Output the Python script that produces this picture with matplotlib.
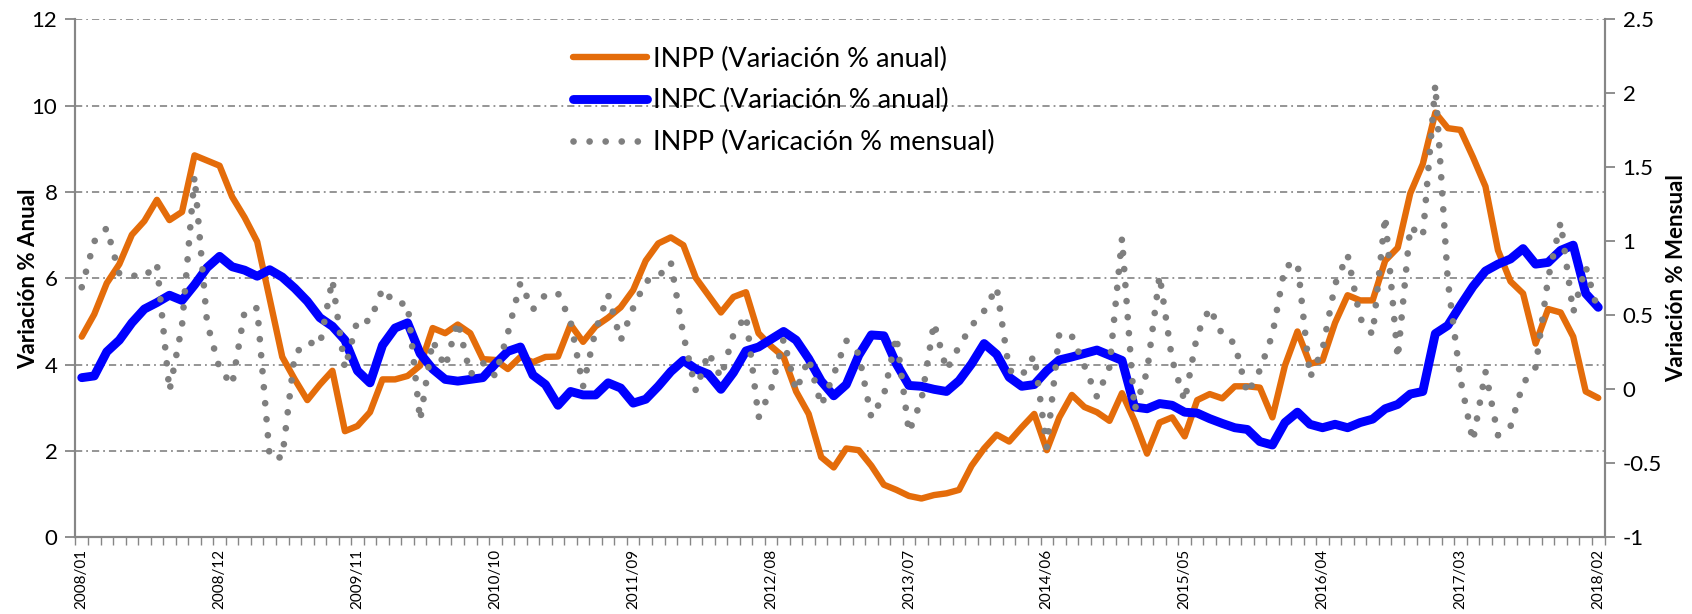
import numpy as np
import matplotlib
matplotlib.use('Agg')
import matplotlib.pyplot as plt

plt.rcParams['font.family'] = ['Lato', 'DejaVu Sans']

# meses 2008/01 .. 2018/02
meses = ['%d/%02d' % (2008 + k // 12, k % 12 + 1) for k in range(122)]

# INPP variacion % anual (eje izquierdo)
inpp_anual = [4.65, 5.17, 5.89, 6.33, 7.01, 7.33, 7.82, 7.35, 7.54, 8.85, 8.73, 8.61,
              7.89, 7.41, 6.85, 5.52, 4.18, 3.66, 3.18, 3.54, 3.86, 2.46, 2.58, 2.90,
              3.66, 3.66, 3.74, 3.98, 4.85, 4.73, 4.93, 4.73, 4.13, 4.11, 3.90, 4.18,
              4.06, 4.18, 4.19, 4.93, 4.53, 4.89, 5.09, 5.33, 5.73, 6.41, 6.81, 6.95,
              6.77, 6.01, 5.61, 5.21, 5.57, 5.68, 4.73, 4.43, 4.18, 3.38, 2.86, 1.86,
              1.62, 2.06, 2.02, 1.66, 1.22, 1.10, 0.96, 0.90, 0.98, 1.02, 1.10, 1.66,
              2.06, 2.38, 2.22, 2.55, 2.86, 2.02, 2.78, 3.30, 3.02, 2.90, 2.70, 3.34,
              2.70, 1.94, 2.66, 2.78, 2.34, 3.18, 3.32, 3.22, 3.50, 3.50, 3.47, 2.78,
              3.98, 4.77, 4.02, 4.10, 4.97, 5.61, 5.49, 5.49, 6.41, 6.71, 7.97, 8.65,
              9.84, 9.48, 9.44, 8.81, 8.13, 6.65, 5.93, 5.65, 4.49, 5.29, 5.21, 4.65,
              3.38, 3.23]

# INPC variacion % anual (eje izquierdo)
inpc_anual = [3.70, 3.74, 4.30, 4.57, 4.97, 5.29, 5.44, 5.61, 5.49, 5.85, 6.25, 6.51,
              6.27, 6.19, 6.05, 6.20, 6.03, 5.77, 5.47, 5.09, 4.89, 4.57, 3.86, 3.58,
              4.45, 4.85, 4.97, 4.26, 3.90, 3.66, 3.62, 3.66, 3.70, 4.02, 4.31, 4.41,
              3.76, 3.54, 3.06, 3.38, 3.30, 3.30, 3.58, 3.46, 3.11, 3.20, 3.50, 3.84,
              4.10, 3.90, 3.78, 3.43, 3.82, 4.32, 4.41, 4.59, 4.77, 4.57, 4.14, 3.62,
              3.28, 3.54, 4.22, 4.69, 4.67, 4.02, 3.52, 3.50, 3.43, 3.38, 3.63, 4.02,
              4.49, 4.24, 3.71, 3.50, 3.54, 3.86, 4.11, 4.18, 4.26, 4.34, 4.22, 4.10,
              3.02, 2.98, 3.10, 3.06, 2.90, 2.88, 2.75, 2.64, 2.54, 2.50, 2.22, 2.14,
              2.66, 2.90, 2.62, 2.54, 2.62, 2.54, 2.66, 2.74, 2.98, 3.08, 3.32, 3.38,
              4.72, 4.91, 5.37, 5.81, 6.17, 6.33, 6.45, 6.69, 6.33, 6.37, 6.65, 6.77,
              5.65, 5.33]

# INPP variacion % mensual (eje derecho)
inpp_mensual = [0.69, 1.00, 1.09, 0.78, 0.77, 0.76, 0.85, -0.01, 0.43, 1.44, 0.45, 0.14,
                0.03, 0.53, 0.55, -0.46, -0.46, 0.24, 0.32, 0.30, 0.74, 0.14, 0.47, 0.46,
                0.68, 0.58, 0.58, -0.21, 0.33, 0.15, 0.46, 0.10, 0.18, 0.09, 0.38, 0.72,
                0.54, 0.64, 0.65, 0.46, 0.02, 0.40, 0.64, 0.33, 0.55, 0.73, 0.76, 0.86,
                0.37, -0.01, 0.25, 0.08, 0.37, 0.50, -0.19, 0.00, 0.34, -0.01, 0.21, -0.11,
                0.10, 0.33, 0.24, -0.19, -0.04, 0.36, -0.29, -0.07, 0.45, 0.13, 0.29, 0.43,
                0.53, 0.69, 0.13, 0.09, 0.23, -0.39, 0.38, 0.36, 0.16, -0.05, 0.15, 1.02,
                -0.14, 0.12, 0.77, 0.20, -0.08, 0.37, 0.55, 0.37, 0.31, -0.03, 0.13, 0.37,
                0.83, 0.86, 0.08, 0.27, 0.71, 0.91, 0.48, 0.37, 1.17, 0.21, 1.10, 1.03,
                2.06, 0.73, 0.07, -0.35, 0.12, -0.31, -0.25, 0.04, 0.15, 0.75, 1.13, 0.52,
                0.83, 0.52]

etiquetas = ['INPP (Variación % anual)', 'INPC (Variación % anual)',
             'INPP (Varicación % mensual)']

gris = '#868686'
x = np.arange(len(meses))

fig = plt.figure(figsize=(16.92, 6.14), dpi=100)
ax = fig.add_axes([0.0446, 0.1248, 0.9037, 0.8436])
ax2 = ax.twinx()

l1, = ax.plot(x, inpp_anual, color='#E46C0A', lw=4.6, solid_capstyle='round',
              solid_joinstyle='round', zorder=3)
l2, = ax.plot(x, inpc_anual, color='#0000FF', lw=6.4, solid_capstyle='round',
              solid_joinstyle='round', zorder=4)
l3, = ax2.plot(x, inpp_mensual, color='#7f7f7f', lw=4.8, linestyle=(0, (0.01, 2.4)),
               dash_capstyle='round', zorder=5)

ax.set_xlim(-0.5, len(meses) - 0.5)
ax.set_ylim(0, 12)
ax2.set_ylim(-1, 2.5)

ax.set_yticks(np.arange(0, 13, 2))
ax2.set_yticks(np.arange(-1, 2.51, 0.5))
ax2.set_yticklabels(['%g' % v for v in np.arange(-1, 2.51, 0.5)])

ax.yaxis.grid(True, color='#8c8c8c', lw=1.3, linestyle=(0, (4, 2.2, 1, 2.2)))
ax.set_axisbelow(True)

pos = list(range(0, len(meses), 11))
ax.set_xticks(pos)
ax.set_xticklabels([meses[i] for i in pos], rotation=90, fontsize=11)
ax.set_xticks(np.arange(-0.5, len(meses), 1), minor=True)
ax.tick_params(axis='x', which='major', length=0, pad=8)
ax.tick_params(axis='x', which='minor', length=6, color=gris, width=1)

ax.tick_params(axis='y', length=7, color=gris, width=1.3, labelsize=16, pad=6)
ax2.tick_params(axis='y', length=7, color=gris, width=1.3, labelsize=16, pad=6)

for a in (ax, ax2):
    a.spines['top'].set_visible(False)
    for s in ('left', 'right', 'bottom'):
        a.spines[s].set_color(gris)
        a.spines[s].set_linewidth(1.5)

ax.set_ylabel('Variación % Anual', fontsize=16, fontweight='bold')
ax.yaxis.set_label_coords(-0.024, 0.5)
ax2.set_ylabel('Variación % Mensual', fontsize=16, fontweight='bold', rotation=90)
ax2.yaxis.set_label_coords(1.04, 0.5)

fig.legend([l1, l2, l3], etiquetas, loc='upper left',
           bbox_to_anchor=(573 / 1692, 1 - 46.5 / 614), frameon=False, fontsize=19.5,
           handlelength=2.75, handletextpad=0.2, labelspacing=0.62,
           borderpad=0, borderaxespad=0)

fig.savefig('out.png', dpi=100)
